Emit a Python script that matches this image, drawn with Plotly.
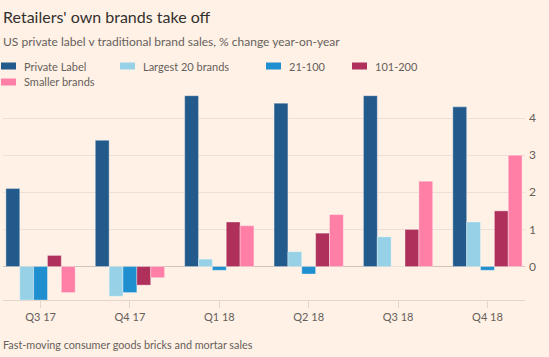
import plotly.graph_objects as go

categories = ["Q3 17", "Q4 17", "Q1 18", "Q2 18", "Q3 18", "Q4 18"]
private_label = [2.1, 3.4, 4.6, 4.4, 4.6, 4.3]
largest_20 = [-0.9, -0.8, 0.2, 0.4, 0.8, 1.2]
brands_21_100 = [-0.9, -0.7, -0.1, -0.2, 0.0, -0.1]
brands_101_200 = [0.3, -0.5, 1.2, 0.9, 1.0, 1.5]
smaller_brands = [-0.7, -0.3, 1.1, 1.4, 2.3, 3.0]

series_names = ["Private Label", "Largest 20 brands", "21-100", "101-200", "Smaller brands"]
series_values = [private_label, largest_20, brands_21_100, brands_101_200, smaller_brands]
colors = ["#235a8c", "#96d1e7", "#1f8fcf", "#b0305c", "#ff7fa6"]

y_ticks = [0, 1, 2, 3, 4]

FONT = "Lato, sans-serif"
BG = "#fff1e5"
W, H = 549, 357
ML, MR, MT, MB = 3, 24, 92, 57
PW, PH = W - ML - MR, H - MT - MB


def px(x):
    return (x - ML) / PW


def py(y):
    return (H - MB - y) / PH


fig = go.Figure()
for name, vals, col in zip(series_names, series_values, colors):
    fig.add_trace(go.Bar(
        x=categories, y=vals, name=name,
        marker=dict(color=col, line=dict(color="rgba(255,255,255,0.35)", width=1)),
        showlegend=False,
    ))

# legend drawn as swatches + text
legend_pos = [(1, 66), (120, 66), (266, 66), (352, 66), (1, 82)]
for (lx, ly), name, col in zip(legend_pos, series_names, colors):
    fig.add_shape(type="rect", xref="paper", yref="paper",
                  x0=px(lx), x1=px(lx + 15),
                  y0=py(ly + 3.5), y1=py(ly - 3.5),
                  fillcolor=col, line=dict(width=0))
    fig.add_annotation(text=name, xref="paper", yref="paper",
                       x=px(lx + 21), y=py(ly),
                       xanchor="left", yanchor="middle", showarrow=False,
                       font=dict(family=FONT, size=11, color="#66605c"))

fig.add_annotation(text="Retailers' own brands take off", xref="paper", yref="paper",
                   x=px(1), y=py(16), xanchor="left", yanchor="middle",
                   showarrow=False, font=dict(family=FONT, size=16, color="#33302e"))
fig.add_annotation(text="US private label v traditional brand sales, % change year-on-year",
                   xref="paper", yref="paper",
                   x=px(1), y=py(42), xanchor="left", yanchor="middle",
                   showarrow=False, font=dict(family=FONT, size=12, color="#66605c"))
fig.add_annotation(text="Fast-moving consumer goods bricks and mortar sales",
                   xref="paper", yref="paper",
                   x=px(1), y=py(344), xanchor="left", yanchor="middle",
                   showarrow=False, font=dict(family=FONT, size=10.8, color="#66605c"))

fig.update_layout(
    width=W, height=H,
    margin=dict(l=ML, r=MR, t=MT, b=MB, autoexpand=False),
    paper_bgcolor=BG, plot_bgcolor=BG,
    barmode="group", bargap=0.225, bargroupgap=0,
    font=dict(family=FONT, size=11, color="#66605c"),
    xaxis=dict(
        type="category", range=[-0.42, 5.42],
        showgrid=False, showline=True, linecolor="#e3d7cd", linewidth=1,
        ticks="outside", ticklen=7, tickcolor="#e3d7cd",
        tickfont=dict(family=FONT, size=11, color="#66605c"),
        fixedrange=True,
    ),
    yaxis=dict(
        side="right", range=[-0.9, 4.7],
        tickvals=y_ticks, ticktext=[str(v) for v in y_ticks],
        showgrid=True, gridcolor="#ece0d6", gridwidth=1,
        zeroline=True, zerolinecolor="#cfc3ba", zerolinewidth=1,
        ticks="", ticklabelstandoff=3,
        tickfont=dict(family=FONT, size=12, color="#66605c"),
        fixedrange=True,
    ),
)

fig.write_html("out.html", config={"displayModeBar": False},
               post_script="document.body.style.margin='0';document.body.style.overflow='hidden';")
